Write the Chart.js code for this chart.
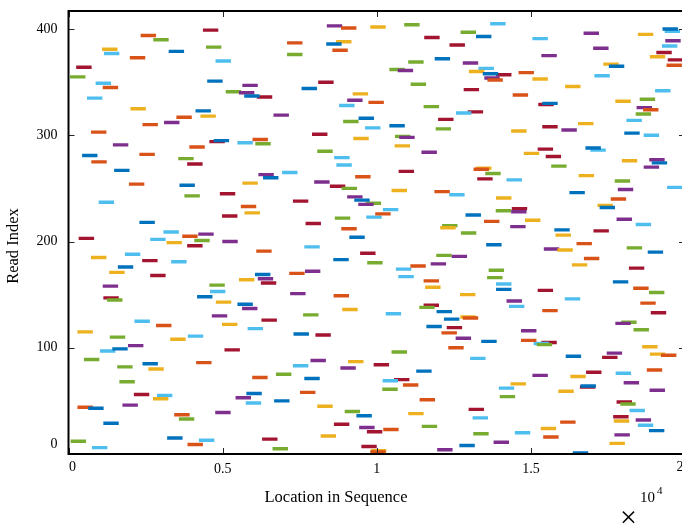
<!DOCTYPE html>
<html>
<head>
<meta charset="utf-8">
<script src="https://cdn.jsdelivr.net/npm/chart.js@4"></script>
<style>
  html, body { margin: 0; padding: 0; background: #fff; overflow: hidden; }
  #wrap { width: 700px; height: 528px; }
</style>
</head>
<body>
<div id="wrap"><canvas id="reads" width="700" height="528"></canvas></div>
<script>
// start position of each read, read 1 first (colour cycles every 7 reads)
const readStart = [
  16360, 9790, 9810, 11960, 6620, 760, 9500, 12680, 3860, 17550,
  13790, 70, 4230, 6280, 3200, 15400, 8180, 17710, 13130, 14480,
  9680, 18830, 10210, 15320, 9430, 11460, 18470, 8610, 1130, 15950,
  17690, 18400, 3580, 13110, 17670, 9340, 3430, 11020, 4760, 8960,
  18200, 12980, 640, 290, 8070, 1750, 17900, 5750, 17780, 6670,
  11390, 2740, 5420, 13990, 2870, 2120, 5770, 7510, 15890, 18850,
  10180, 13960, 16590, 16610, 10850, 14340, 18010, 1650, 10190, 10560,
  7650, 5960, 16280, 15050, 6730, 17750, 16790, 11280, 18760, 2590,
  8820, 1580, 7280, 9900, 2400, 4140, 9070, 7850, 500, 13030,
  17310, 16130, 19220, 18860, 17460, 10480, 1020, 5060, 1420, 12320,
  18610, 1930, 15190, 15090, 15340, 13390, 14680, 3300, 12560, 1340,
  3870, 8010, 7300, 12100, 290, 14680, 18330, 5810, 12270, 11610,
  2840, 4980, 17740, 17930, 2140, 6260, 12180, 12790, 12710, 4650,
  7610, 10290, 18890, 11940, 15370, 8880, 5630, 11380, 14290, 11520,
  5480, 18550, 4780, 14210, 1250, 16100, 1130, 4170, 8600, 12700,
  7190, 18830, 4590, 15220, 13870, 18320, 11570, 1110, 4570, 13870,
  6240, 17660, 11520, 5530, 6140, 13580, 10700, 2650, 6050, 7160,
  1320, 7670, 13630, 10620, 18180, 1600, 11090, 16330, 11750, 9690,
  3330, 2390, 8590, 16720, 730, 12430, 11930, 1830, 9460, 18790,
  6090, 15860, 15420, 18110, 7650, 3850, 13550, 16480, 3180, 4990,
  4080, 2650, 330, 9110, 3690, 15800, 4210, 12730, 3080, 17030,
  15760, 8850, 12060, 14330, 12120, 18400, 7690, 2300, 13480, 14810,
  17780, 8640, 9660, 4980, 12880, 9950, 5710, 14360, 13860, 10200,
  14380, 17230, 5590, 17160, 9400, 9640, 980, 7280, 9270, 17590,
  13870, 9040, 3760, 12350, 4910, 16250, 11870, 10480, 17820, 8860,
  19420, 8480, 3600, 1960, 5640, 7970, 17720, 14210, 13260, 6310,
  9300, 16550, 6160, 13520, 6930, 10710, 1480, 13140, 13220, 18660,
  15660, 8690, 3850, 18920, 740, 17950, 18840, 3560, 8620, 15480,
  440, 2300, 14770, 11450, 8070, 16930, 15220, 16770, 3920, 10580,
  1440, 6060, 5480, 4570, 4710, 5970, 9240, 10730, 10590, 18660,
  7900, 18030, 730, 14360, 15990, 11910, 9620, 15370, 10410, 2400,
  16530, 3100, 8910, 18100, 11990, 9410, 3500, 4280, 6650, 18400,
  12570, 12950, 4120, 18640, 2010, 18430, 11520, 8780, 15240, 15370,
  9730, 17740, 9040, 18530, 600, 6110, 5700, 14410, 9220, 5530,
  5100, 19030, 12820, 7560, 1110, 16110, 5640, 11100, 880, 8100,
  4500, 13590, 15050, 13490, 50, 17060, 13870, 13440, 14600, 12990,
  10680, 10410, 13300, 250, 17530, 19400, 17350, 12790, 11020, 4770,
  19440, 11880, 1990, 18860, 15340, 7090, 1150, 19070, 3250, 8560,
  1090, 17020, 4460, 19250, 12360, 8360, 7090, 8680, 19360, 2750,
  15050, 11540, 13220, 2340, 18470, 16710, 12720, 19340, 4360, 19270,
  8840, 9790, 8380, 10890, 13680
];
const readLength = 500;
const lineColors = ["#0072BD", "#D95319", "#EDB120", "#7E2F8E", "#77AC30", "#4DBEEE", "#A2142F"];
const xTicks = [0, 5000, 10000, 15000, 20000];
const xTickLabels = ["0", "0.5", "1", "1.5", "2"];
const yTicks = [0, 100, 200, 300, 400];
const xTitle = "Location in Sequence";
const yTitle = "Read Index";

// one dataset per colour, each read a two-point piece split by a null
const datasets = lineColors.map((col, c) => {
  const pts = [];
  for (let i = c; i < readStart.length; i += 7) {
    const s = readStart[i];
    pts.push({x: s, y: i + 1});
    pts.push({x: s + readLength, y: i + 1});
    pts.push({x: s + readLength, y: null});
  }
  return {
    data: pts,
    borderColor: col,
    borderWidth: 3.4,
    borderCapStyle: "butt",
    pointRadius: 0,
    spanGaps: false,
    tension: 0
  };
});

const serif = "'Liberation Serif', 'DejaVu Serif', serif";

// box round the plot, inward ticks, edge labels, titles and the x10^4 note
const frame = {
  id: "frame",
  afterDatasetsDraw(chart) {
    const {ctx, chartArea: a, scales} = chart;
    ctx.save();
    ctx.strokeStyle = "#262626";
    ctx.lineWidth = 1;
    const tl = 6;
    xTicks.forEach(v => {
      const px = Math.round(scales.x.getPixelForValue(v)) + 0.5;
      ctx.beginPath();
      ctx.moveTo(px, a.bottom); ctx.lineTo(px, a.bottom - tl);
      ctx.moveTo(px, a.top); ctx.lineTo(px, a.top + tl);
      ctx.stroke();
    });
    yTicks.forEach(v => {
      const py = Math.round(scales.y.getPixelForValue(v)) + 0.5;
      ctx.beginPath();
      ctx.moveTo(a.left, py); ctx.lineTo(a.left + tl, py);
      ctx.moveTo(a.right, py); ctx.lineTo(a.right - tl, py);
      ctx.stroke();
    });
    ctx.strokeStyle = "#000";
    ctx.lineWidth = 2;
    ctx.strokeRect(a.left, a.top, a.right - a.left, a.bottom - a.top);

    ctx.fillStyle = "#000";
    ctx.textBaseline = "middle";
    // end labels sit a little inside the box
    ctx.font = "14px " + serif;
    ctx.textAlign = "center";
    ctx.fillText(xTickLabels[0], scales.x.getPixelForValue(xTicks[0]) + 4, 467);
    ctx.fillText(xTickLabels[4], scales.x.getPixelForValue(xTicks[4]) - 5, 467);
    ctx.textAlign = "right";
    ctx.fillText(String(yTicks[0]), a.left - 11, scales.y.getPixelForValue(yTicks[0]) - 10);

    ctx.font = "16.5px " + serif;
    ctx.textAlign = "center";
    ctx.fillText(xTitle, 336, 498);
    ctx.save();
    ctx.translate(14, 246);
    ctx.rotate(-Math.PI / 2);
    ctx.fillText(yTitle, 0, 0);
    ctx.restore();

    ctx.textAlign = "left";
    ctx.textBaseline = "alphabetic";
    ctx.font = "15px " + serif;
    ctx.fillText("10", 640, 502);
    ctx.font = "11px " + serif;
    ctx.fillText("4", 657, 494);
    ctx.font = "30px " + serif;
    ctx.fillText("\u00D7", 620, 527);
    ctx.restore();
  }
};

new Chart(document.getElementById("reads"), {
  type: "line",
  data: {datasets},
  options: {
    responsive: false,
    animation: false,
    devicePixelRatio: 1,
    layout: {padding: {top: 11, right: 15, left: 0, bottom: 0}},
    plugins: {legend: {display: false}, tooltip: {enabled: false}},
    scales: {
      x: {
        type: "linear",
        min: 0,
        max: 20000,
        afterBuildTicks: s => { s.ticks = xTicks.map(v => ({value: v})); },
        afterFit: s => { s.height = 74; s.paddingLeft = 0; s.paddingRight = 0; },
        grid: {display: false, drawTicks: false},
        border: {display: false},
        ticks: {
          padding: 7,
          maxRotation: 0,
          color: "#000",
          font: {family: serif, size: 14},
          callback: (v, i) => (i === 0 || i === xTicks.length - 1) ? "" : xTickLabels[i]
        },
        title: {display: false}
      },
      y: {
        type: "linear",
        min: 0,
        max: 417,
        afterBuildTicks: s => { s.ticks = yTicks.map(v => ({value: v})); },
        afterFit: s => { s.width = 68.5; s.paddingTop = 0; s.paddingBottom = 0; },
        grid: {display: false, drawTicks: false},
        border: {display: false},
        ticks: {
          padding: 11,
          color: "#000",
          font: {family: serif, size: 14},
          callback: v => v === 0 ? "" : String(v)
        },
        title: {display: false}
      }
    }
  },
  plugins: [frame]
});
</script>
</body>
</html>
